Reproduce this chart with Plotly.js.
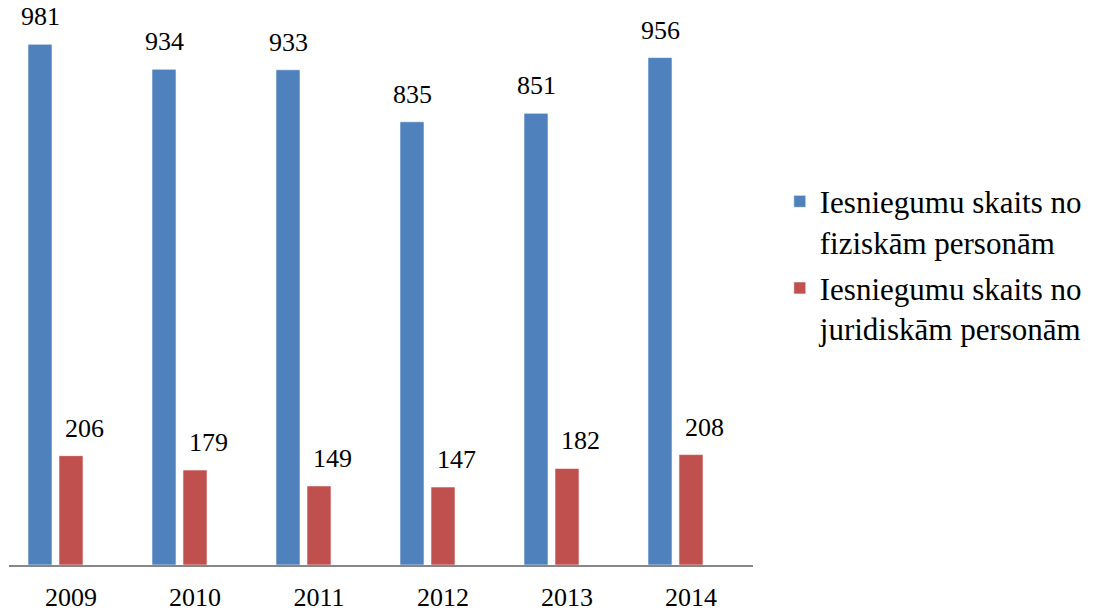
<!DOCTYPE html>
<html>
<head>
<meta charset="utf-8">
<script src="https://cdn.plot.ly/plotly-3.0.1.min.js"></script>
<style>html,body{margin:0;padding:0;background:#fff;}#chart{width:1100px;height:611px;}</style>
</head>
<body>
<div id="chart"></div>
<script>
const years = ["2009", "2010", "2011", "2012", "2013", "2014"];
const fiziskas = [981, 934, 933, 835, 851, 956];
const juridiskas = [206, 179, 149, 147, 182, 208];
const seriesNames = ["Iesniegumu skaits no<br>fiziskām personām", "Iesniegumu skaits no<br>juridiskām personām"];
const colors = ["#4F81BD", "#C0504D"];

const font = "Liberation Serif, Times New Roman, DejaVu Serif, serif";
const barW = 0.194;
const offsets = [-0.347, -0.097];

const traces = [fiziskas, juridiskas].map((vals, i) => ({
  type: "bar",
  x: years,
  y: vals,
  name: seriesNames[i],
  legendgroup: "g" + i,
  width: barW,
  offset: offsets[i],
  marker: {color: colors[i], line: {color: "rgba(255,255,255,0.6)", width: 1}},
  hoverinfo: "x+y"
}));

const labelShift = [0, 13];
const annotations = [];
[fiziskas, juridiskas].forEach((vals, i) => {
  vals.forEach((v, j) => {
    annotations.push({
      x: j, y: v, xref: "x", yref: "y",
      text: String(v), showarrow: false,
      xanchor: "center", yanchor: "bottom",
      xshift: Math.round((offsets[i] + barW / 2) * 124 + labelShift[i]),
      yshift: 11,
      font: {family: font, size: 26, color: "#000000"}
    });
  });
});

const layout = {
  width: 1100, height: 611,
  margin: {l: 9, r: 347, t: 5, b: 46},
  paper_bgcolor: "#ffffff", plot_bgcolor: "#ffffff",
  showlegend: true,
  barmode: "group",
  font: {family: font, color: "#000000"},
  xaxis: {
    type: "category",
    showline: true, linecolor: "#868686", linewidth: 2,
    showgrid: false, zeroline: false, ticks: "",
    ticklabelstandoff: 8,
    tickfont: {family: font, size: 26, color: "#000000"},
    range: [-0.5, 5.5]
  },
  yaxis: {
    range: [0, 1055], visible: false, showgrid: false, zeroline: false
  },
  legend: {
    x: 1.036, y: 0.697,
    xanchor: "left", yanchor: "top",
    valign: "top",
    traceorder: "grouped",
    tracegroupgap: 3,
    font: {family: font, size: 31, color: "#000000"},
    bgcolor: "rgba(0,0,0,0)"
  },
  annotations: annotations
};

Plotly.newPlot("chart", traces, layout, {displayModeBar: false});
</script>
</body>
</html>
